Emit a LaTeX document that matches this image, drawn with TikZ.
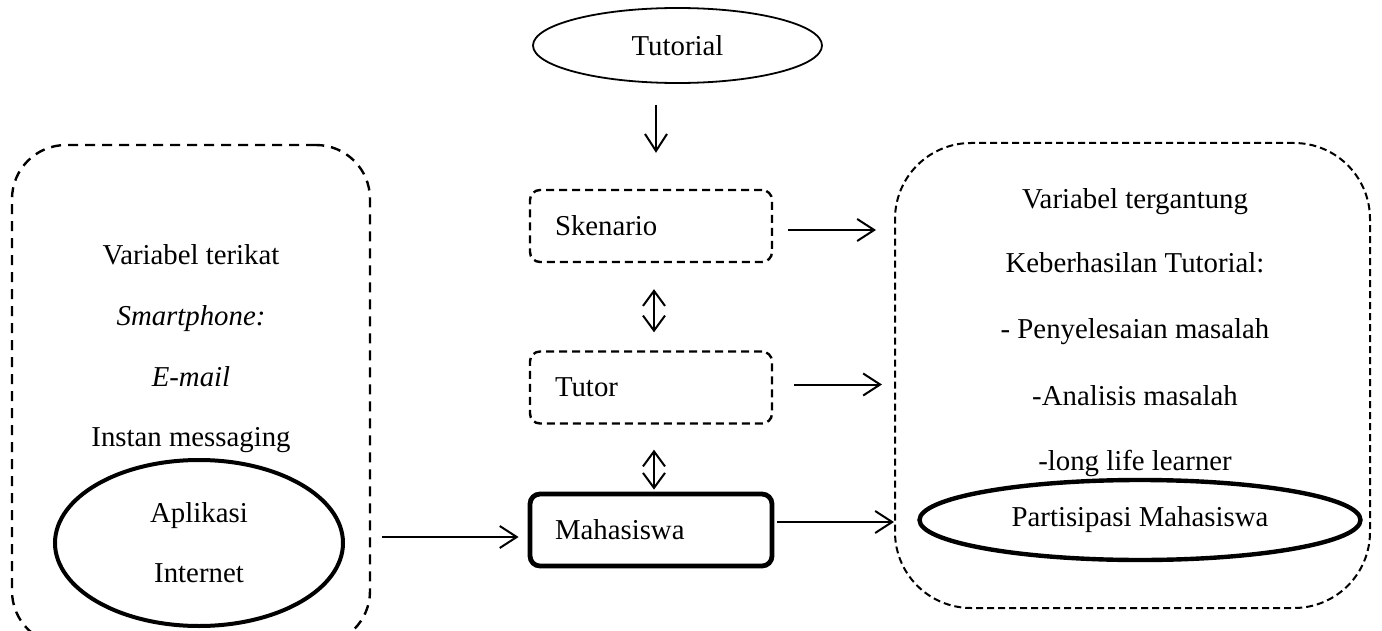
\documentclass[tikz,border=0pt]{standalone}
\usepackage{fontspec}
\setmainfont{Liberation Serif}
\usetikzlibrary{shapes,calc}
\usetikzlibrary{arrows.meta}
\usetikzlibrary{positioning}

\begin{document}
\begin{tikzpicture} [
                x=0.5pt, y=-0.5pt,
                font=\fontsize{14.4}{17.3}\selectfont,
                arr/.style = {-{Straight Barb[length=8.5pt,width=11pt]}, line width=1pt},
                dbl/.style = {{Straight Barb[length=7.5pt,width=11pt]}-{Straight Barb[length=7.5pt,width=11pt]}, line width=1pt},
                part/.style = {draw, rounded corners=5pt, minimum width=121pt, minimum height=36pt, text width=96pt, inner xsep=12.5pt, align=left},
                dashpart/.style = {part, line width=1.2pt, dash pattern=on 4pt off 2.5pt},
                oval/.style = {draw, ellipse, inner sep=0pt}
            ]
            \path[use as bounding box, clip] (0,0) rectangle (1382,631);
            % the two dashed groups
            \node (kiri) at (191,395) [draw, line width=1.2pt, dash pattern=on 5pt off 3.5pt, rounded corners=27pt, minimum width=179pt, minimum height=250pt] {};
            \node (kanan) at (1132.5,375.5) [draw, line width=1pt, dash pattern=on 3.5pt off 2pt, rounded corners=38pt, minimum width=237.5pt, minimum height=232.5pt] {};
            % middle column
            \node (tutorial) at (677.5,45.5) [oval, line width=0.9pt, minimum width=144.5pt, minimum height=37.5pt] {Tutorial};
            \node (skenario) at (651,226) [dashpart] {Skenario};
            \node (tutor) at (651,387.5) [dashpart] {Tutor};
            \node (mhs) at (651,530) [part, line width=2.4pt, minimum width=120.5pt] {Mahasiswa};
            % left group
            \node (vterikat) at (191,264) [anchor=base] {Variabel terikat};
            \node (smartphone) at (191,325) [anchor=base] {\textit{Smartphone:}};
            \node (email) at (191,386) [anchor=base] {\textit{E-mail}};
            \node (instan) at (191,446) [anchor=base] {Instan messaging};
            \node (aplikasi) at (199,543) [oval, line width=2pt, minimum width=144pt, minimum height=83pt, align=center] {Aplikasi\\[12.7pt]Internet};
            % right group
            \node (vtergantung) at (1135,208) [anchor=base] {Variabel tergantung};
            \node (keberhasilan) at (1135,272) [anchor=base] {Keberhasilan Tutorial:};
            \node (penyelesaian) at (1135,338) [anchor=base] {- Penyelesaian masalah};
            \node (analisis) at (1135,405) [anchor=base] {-Analisis masalah};
            \node (learner) at (1135,470) [anchor=base] {-long life learner};
            \node (partisipasi) at (1140,520) [oval, line width=2.2pt, minimum width=220.5pt, minimum height=40pt] {Partisipasi Mahasiswa};
            % arrows
            \draw [arr] ($(skenario.north)+(5,-84)$) -- ($(skenario.north)+(5,-36)$);
            \draw [dbl] ($(skenario.south)+(3,26)$) -- ($(tutor.north)+(3,-18)$);
            \draw [dbl] ($(tutor.south)+(3,25)$) -- ($(tutor.south |- mhs.north)+(3,-2)$);
            \draw [arr] ($(skenario.east)+(15,4)$) -- ($(skenario.east -| kanan.west)+(-18,4)$);
            \draw [arr] ($(tutor.east)+(21,-3)$) -- ($(tutor.east -| kanan.west)+(-12,-3)$);
            \draw [arr] ($(mhs.east)+(3,-8)$) -- ($(mhs.east -| kanan.west)+(0,-8)$);
            \draw [arr] ($(kiri.east |- mhs.west)+(11,7)$) -- ($(mhs.west)+(-9,7)$);
        \end{tikzpicture}
\end{document}
